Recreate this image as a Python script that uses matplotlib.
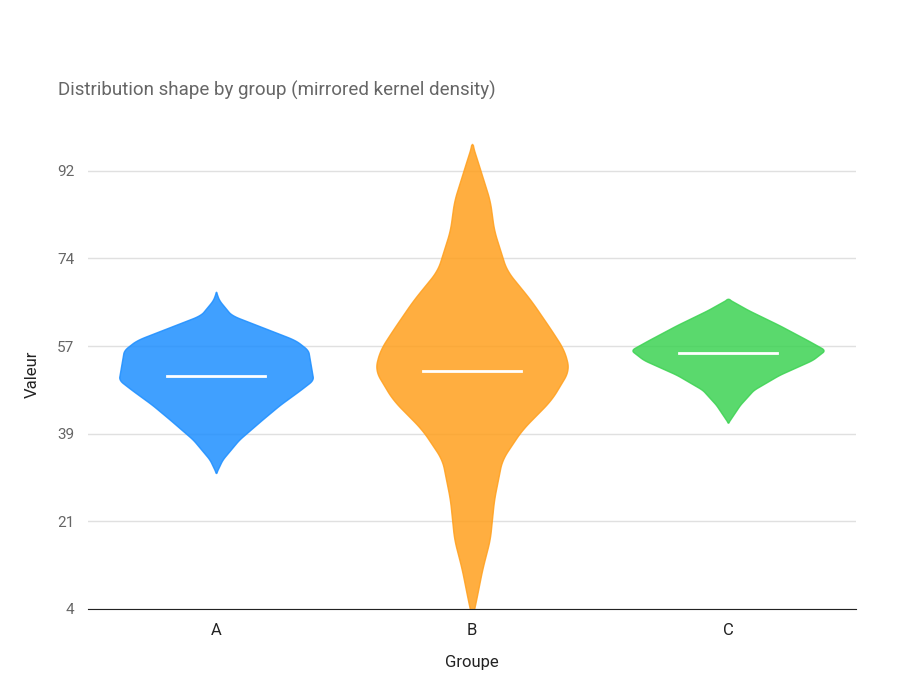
import numpy as np
import matplotlib
matplotlib.use("Agg")
import matplotlib.pyplot as plt

plt.rcParams['font.family'] = ['Roboto', 'DejaVu Sans']

categories = ["A", "B", "C"]
colors = ["#1E8FFF", "#FFA01E", "#3DD353"]
medians = [50.8, 51.8, 55.4]
# outline: value levels and half-widths (in category units)
levels_A = [31.3, 34, 38, 42, 45, 48, 50, 53, 56, 58, 60, 63, 66, 67.7]
widths_A = [0.0, 0.025, 0.09, 0.18, 0.25, 0.33, 0.38, 0.37, 0.36, 0.31, 0.21, 0.06, 0.012, 0.0]
levels_B = [2.0, 5.8, 12, 18, 26, 34, 40, 46, 52, 56, 60, 66, 72, 80, 86, 94.2, 97.4]
widths_B = [0.0, 0.016, 0.04, 0.07, 0.086, 0.117, 0.195, 0.31, 0.38, 0.36, 0.31, 0.23, 0.135, 0.086, 0.07, 0.02, 0.0]
levels_C = [41.4, 45, 48, 51, 54, 56, 58, 61, 64, 66.3]
widths_C = [0.0, 0.047, 0.1, 0.2, 0.33, 0.38, 0.31, 0.2, 0.08, 0.0]
yticks = [4, 21.6, 39.2, 56.8, 74.4, 92]
ytick_labels = ["4", "21", "39", "57", "74", "92"]

fig = plt.figure(figsize=(9, 6.97), dpi=100)
ax = fig.add_axes([0.0978, 0.1263, 0.8533, 0.673])

for i, (lv, wd) in enumerate([(levels_A, widths_A), (levels_B, widths_B), (levels_C, widths_C)]):
    y = np.linspace(lv[0], lv[-1], 400)
    w = np.interp(y, lv, wd)
    k = np.ones(15) / 15
    w = np.convolve(np.pad(w, 7, mode='edge'), k, mode='valid')
    w[0] = w[-1] = 0
    ax.fill_betweenx(y, i - w, i + w, facecolor=colors[i], alpha=0.85,
                     edgecolor=colors[i], linewidth=1, zorder=3)
    ax.plot([i - 0.19, i + 0.19], [medians[i]] * 2, color="white", lw=2, zorder=4)

ax.set_xlim(-0.5, 2.5)
ax.set_ylim(4, 98.2)
ax.set_xticks(range(3))
ax.set_xticklabels(categories, fontsize=12, color="#222222")
ax.set_yticks(yticks)
ax.set_yticklabels(ytick_labels, fontsize=11, color="#666666")
ax.tick_params(length=0, pad=10)
ax.grid(axis="y", color="#e0e0e0", lw=1, zorder=0)
for s in ["top", "right", "left"]:
    ax.spines[s].set_visible(False)
ax.spines["bottom"].set_color("#222222")
ax.spines["bottom"].set_zorder(5)
ax.set_xlabel("Groupe", fontsize=12, color="#222222", labelpad=12)
ax.set_ylabel("Valeur", fontsize=12, color="#222222", labelpad=12)
fig.text(0.064, 0.862, "Distribution shape by group (mirrored kernel density)",
         fontsize=13.5, color="#666666")
fig.savefig("out.png", dpi=100)
